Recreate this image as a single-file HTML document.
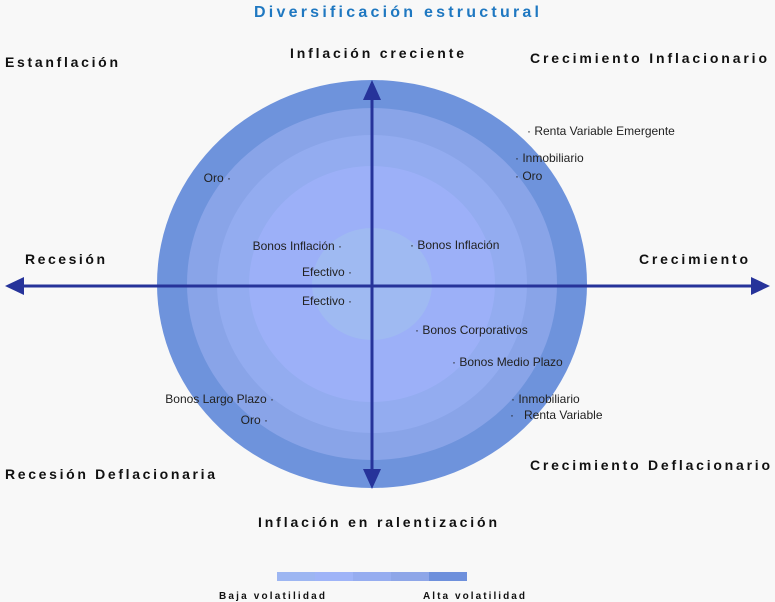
<!DOCTYPE html>
<html><head><meta charset="utf-8"><style>
html,body{margin:0;padding:0;background:#f8f8f8;}
svg{display:block;}
.h{font-family:"Liberation Sans",sans-serif;font-weight:bold;font-size:14px;fill:#111;}
.l{font-family:"Liberation Sans",sans-serif;font-size:12px;fill:#222;}
</style></head><body>
<svg width="775" height="602" viewBox="0 0 775 602" xmlns="http://www.w3.org/2000/svg">
<rect width="775" height="602" fill="#f8f8f8"/>
<ellipse cx="372" cy="284" rx="215" ry="204" fill="#6e93dc"/>
<ellipse cx="372" cy="284" rx="185" ry="176" fill="#89a4e8"/>
<ellipse cx="372" cy="284" rx="155" ry="149" fill="#93acf0"/>
<ellipse cx="372" cy="284" rx="123" ry="118" fill="#9cb0f8"/>
<ellipse cx="372" cy="284" rx="60" ry="56" fill="#9fbaf2"/>
<g stroke="#26339a" stroke-width="3">
<line x1="20" y1="286" x2="755" y2="286"/>
<line x1="372" y1="97" x2="372" y2="472"/>
</g>
<g fill="#26339a">
<polygon points="5,286 24,277 24,295"/>
<polygon points="770,286 751,277 751,295"/>
<polygon points="372,80 363,100 381,100"/>
<polygon points="372,489 363,469 381,469"/>
</g>
<text x="254" y="17" textLength="285" lengthAdjust="spacing" class="h" style="fill:#1f78c1;font-size:16px">Diversificación estructural</text>
<text x="290" y="58" textLength="174" lengthAdjust="spacing" class="h">Inflación creciente</text>
<text x="5" y="67" textLength="113" lengthAdjust="spacing" class="h">Estanflación</text>
<text x="530" y="63" textLength="237" lengthAdjust="spacing" class="h">Crecimiento Inflacionario</text>
<text x="25" y="264" textLength="80" lengthAdjust="spacing" class="h">Recesión</text>
<text x="639" y="264" textLength="109" lengthAdjust="spacing" class="h">Crecimiento</text>
<text x="5" y="479" textLength="210" lengthAdjust="spacing" class="h">Recesión Deflacionaria</text>
<text x="530" y="470" textLength="240" lengthAdjust="spacing" class="h">Crecimiento Deflacionario</text>
<text x="258" y="527" textLength="239" lengthAdjust="spacing" class="h">Inflación en ralentización</text>
<text x="219" y="599" textLength="106" lengthAdjust="spacing" class="h" style="font-size:10px">Baja volatilidad</text>
<text x="423" y="599" textLength="102" lengthAdjust="spacing" class="h" style="font-size:10px">Alta volatilidad</text>
<rect x="277" y="572" width="38" height="9" fill="#9db6f2"/>
<rect x="315" y="572" width="38" height="9" fill="#9fb4f8"/>
<rect x="353" y="572" width="38" height="9" fill="#96adf0"/>
<rect x="391" y="572" width="38" height="9" fill="#8ea6e8"/>
<rect x="429" y="572" width="38" height="9" fill="#6e90dc"/>
<g class="l">
<text x="231" y="182" text-anchor="end">Oro ·</text>
<text x="342" y="250" text-anchor="end">Bonos Inflación ·</text>
<text x="410" y="249">· Bonos Inflación</text>
<text x="352" y="276" text-anchor="end">Efectivo ·</text>
<text x="352" y="305" text-anchor="end">Efectivo ·</text>
<text x="415" y="334">· Bonos Corporativos</text>
<text x="452" y="366">· Bonos Medio Plazo</text>
<text x="274" y="403" text-anchor="end">Bonos Largo Plazo ·</text>
<text x="268" y="424" text-anchor="end">Oro ·</text>
<text x="511" y="403">· Inmobiliario</text>
<text x="510" y="419" xml:space="preserve">·   Renta Variable</text>
<text x="527" y="135">· Renta Variable Emergente</text>
<text x="515" y="162">· Inmobiliario</text>
<text x="515" y="180">· Oro</text>
</g>
</svg>
</body></html>
